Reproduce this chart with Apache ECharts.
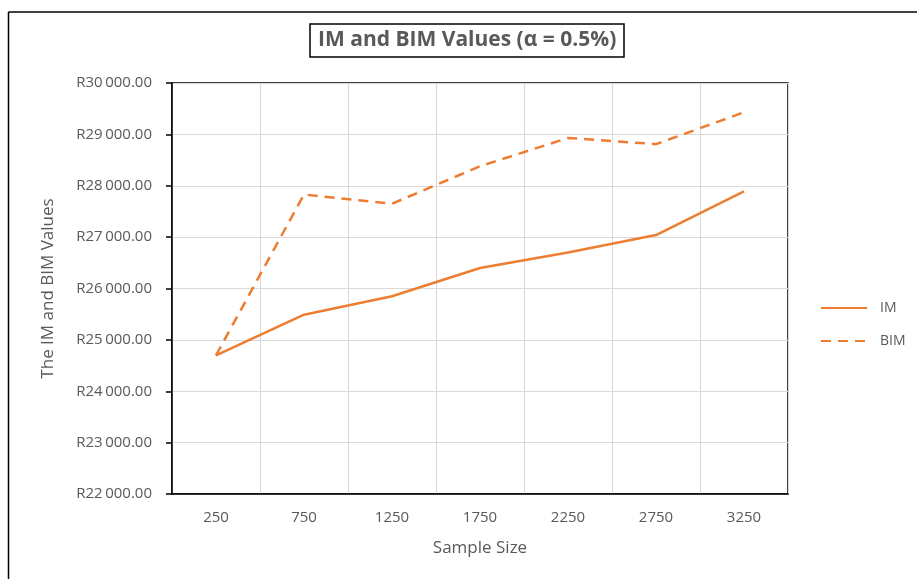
<!DOCTYPE html>
<html>
<head>
<meta charset="utf-8">
<script src="https://cdn.jsdelivr.net/npm/echarts@6/dist/echarts.min.js"></script>
<style>
  html, body { margin: 0; padding: 0; background: #fff; }
  #chart { width: 917px; height: 579px; }
</style>
</head>
<body>
<div id="chart"></div>
<script>
// Sample sizes on the category axis
const sampleSizes = ['250', '750', '1250', '1750', '2250', '2750', '3250'];
// IM and BIM values (Rand)
const imValues  = [24700, 25490, 25850, 26400, 26700, 27040, 27890];
const bimValues = [24700, 27830, 27650, 28380, 28930, 28810, 29430];
// Value axis range
const yMin = 22000, yMax = 30000, yStep = 1000;

const textColor = '#595959';
const fontFamily = '"Open Sans", sans-serif';
const orange = '#ED7D31';

function rand(v) {
  const whole = Math.round(v);
  const thousands = Math.floor(whole / 1000);
  const rest = String(whole % 1000).padStart(3, '0');
  return 'R' + thousands + '\u2009' + rest + '.00';
}

const chart = echarts.init(document.getElementById('chart'));
chart.setOption({
  animation: false,
  backgroundColor: '#fff',
  textStyle: { fontFamily: fontFamily },
  title: {
    text: 'IM and BIM Values (\u03B1 = 0.5%)',
    left: 310,
    top: 24,
    padding: [6, 8, 6, 8],
    borderColor: '#000',
    borderWidth: 1.5,
    textStyle: { color: textColor, fontSize: 21, fontWeight: 'bold', fontFamily: fontFamily }
  },
  graphic: [
    { type: 'line', shape: { x1: 8.5, y1: 12, x2: 917, y2: 12 }, style: { stroke: '#000', lineWidth: 1.5 } },
    { type: 'line', shape: { x1: 8.5, y1: 12, x2: 8.5, y2: 579 }, style: { stroke: '#000', lineWidth: 1.5 } }
  ],
  legend: {
    orient: 'vertical',
    left: 815,
    top: 296,
    itemWidth: 46,
    itemHeight: 14,
    itemGap: 19,
    itemStyle: { opacity: 0 },
    textStyle: { color: textColor, fontSize: 14, fontFamily: fontFamily, padding: [0, 0, 0, 8] },
    data: ['IM', 'BIM']
  },
  grid: {
    left: 172,
    right: 129,
    top: 83,
    bottom: 85,
    show: true,
    borderColor: '#000',
    borderWidth: 1.5,
    containLabel: false
  },
  xAxis: {
    type: 'category',
    data: sampleSizes,
    boundaryGap: true,
    name: 'Sample Size',
    nameLocation: 'middle',
    nameGap: 46,
    nameTextStyle: { color: textColor, fontSize: 17, fontFamily: fontFamily },
    axisLine: { lineStyle: { color: '#000', width: 1.5 } },
    axisTick: { show: false },
    axisLabel: { color: textColor, fontSize: 15, margin: 16, fontFamily: fontFamily },
    splitLine: { show: true, lineStyle: { color: '#d9d9d9', width: 1 } }
  },
  yAxis: {
    type: 'value',
    min: yMin,
    max: yMax,
    interval: yStep,
    name: 'The IM and BIM Values',
    nameLocation: 'middle',
    nameGap: 115,
    nameTextStyle: { color: textColor, fontSize: 17, fontFamily: fontFamily },
    axisLine: { show: true, lineStyle: { color: '#000', width: 1.5 } },
    axisTick: { show: true, length: 6, inside: false, lineStyle: { color: '#000', width: 1.5 } },
    axisLabel: { color: textColor, fontSize: 15, margin: 20, fontFamily: fontFamily, formatter: rand },
    splitLine: { show: true, lineStyle: { color: '#d9d9d9', width: 1 } }
  },
  series: [
    {
      name: 'IM',
      type: 'line',
      data: imValues,
      symbol: 'none',
      lineStyle: { color: orange, width: 2.5 },
      itemStyle: { color: orange }
    },
    {
      name: 'BIM',
      type: 'line',
      data: bimValues,
      symbol: 'none',
      lineStyle: { color: orange, width: 2.5, type: [10, 7] },
      itemStyle: { color: orange }
    }
  ]
});
</script>
</body>
</html>
